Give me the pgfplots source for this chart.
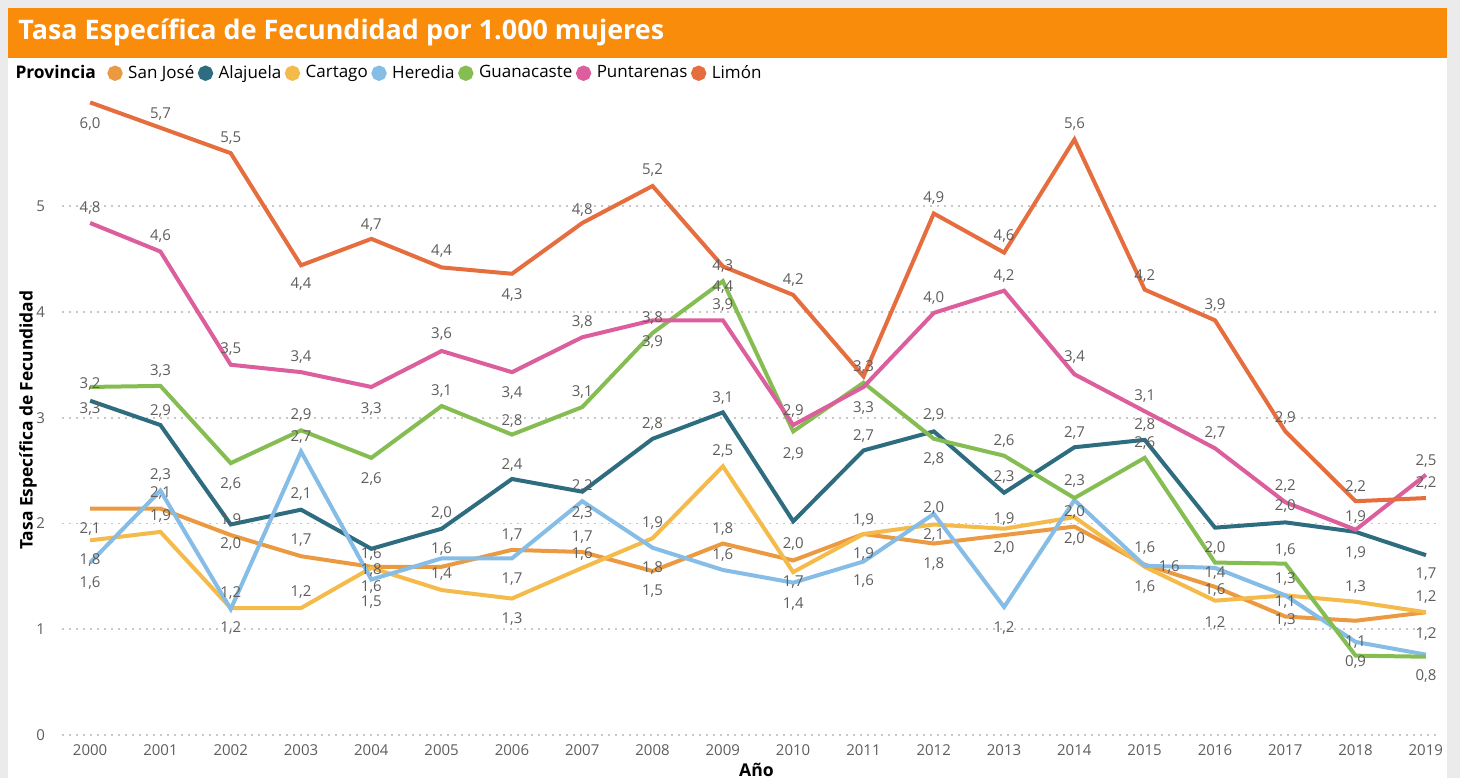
\documentclass[border=0pt]{standalone}
\usepackage{pgfplots}
\pgfplotsset{compat=1.18}
\usepackage{fontspec}
\setmainfont{Open Sans}
\definecolor{cSJ}{HTML}{EB9A42}
\definecolor{cAL}{HTML}{2E6C80}
\definecolor{cCA}{HTML}{F4BA4A}
\definecolor{cHE}{HTML}{86BDE6}
\definecolor{cGU}{HTML}{85BD52}
\definecolor{cPU}{HTML}{DC5E9C}
\definecolor{cLI}{HTML}{E56D3E}
\definecolor{titleOrange}{HTML}{F98C0B}
\definecolor{bgGrey}{HTML}{EBEBEB}
\definecolor{labGrey}{HTML}{605E5C}
\definecolor{gridGrey}{HTML}{C8C8C8}
\begin{document}
\begin{tikzpicture}
\fill[bgGrey] (0,0) rectangle (730pt,389pt);
\useasboundingbox (0,0) rectangle (730pt,389pt);
\fill[white] (4pt,0) rectangle (723.5pt,385pt);
\fill[titleOrange] (4pt,360pt) rectangle (723.5pt,385pt);
\node[anchor=west, text=white, inner sep=0pt, font=\bfseries\fontsize{13.45}{15}\selectfont] at (9pt,373pt) {Tasa Específica de Fecundidad por 1.000 mujeres};
\begin{axis}[
  at={(31pt,21.5pt)}, anchor=south west,
  scale only axis, width=689pt, height=320pt,
  xmin=1999.6, xmax=2019.2, ymin=0, ymax=6.05,
  xtick={2000,...,2019}, ytick={0,...,5},
  axis line style={draw=none}, tick style={draw=none},
  major tick length=0pt,
  ymajorgrids, grid style={gridGrey, line width=0.9pt, dash pattern=on 0.9pt off 2.6pt},
  clip=false,
  /pgf/number format/assume math mode=true,
  xticklabel style={/pgf/number format/1000 sep={}, font=\fontsize{7.5}{8}\selectfont, text=labGrey, yshift=-1.5pt},
  yticklabel style={font=\fontsize{7.5}{8}\selectfont, text=labGrey, xshift=-5pt},
  xlabel={Año}, ylabel={Tasa Específica de Fecundidad},
  xlabel style={at={(axis description cs:0.504,0)}, anchor=center, yshift=-17.5pt, font=\bfseries\fontsize{8.8}{10}\selectfont},
  ylabel style={at={(axis description cs:-0.0247,0.492)}, anchor=center, font=\bfseries\fontsize{8.7}{10}\selectfont},
  legend columns=-1,
  legend cell align=left,
  legend style={at={(axis description cs:-0.0378,1.034)}, anchor=west, draw=none, fill=none, inner sep=0pt, outer sep=0pt,
    font=\fontsize{8.5}{10}\selectfont,
    nodes={inner xsep=0.8pt},
    /tikz/every even column/.append style={column sep=1pt},
    /tikz/every odd column/.append style={column sep=2pt}},
  legend image code/.code={\fill[#1] (0pt,0pt) circle (2.8pt);},
  every axis plot/.append style={line width=2pt},
]
\addlegendimage{empty legend}
\addlegendentry{\textbf{\fontsize{8.7}{10}\selectfont Provincia}\kern4pt}
\addplot[cSJ] coordinates {(2000,2.14)(2001,2.14)(2002,1.89)(2003,1.69)(2004,1.59)(2005,1.59)(2006,1.75)(2007,1.73)(2008,1.55)(2009,1.81)(2010,1.65)(2011,1.90)(2012,1.81)(2013,1.89)(2014,1.97)(2015,1.61)(2016,1.40)(2017,1.12)(2018,1.08)(2019,1.16)};
\addlegendentry{San José}
\addplot[cAL] coordinates {(2000,3.16)(2001,2.93)(2002,1.99)(2003,2.13)(2004,1.76)(2005,1.95)(2006,2.42)(2007,2.30)(2008,2.80)(2009,3.05)(2010,2.02)(2011,2.69)(2012,2.87)(2013,2.29)(2014,2.72)(2015,2.79)(2016,1.96)(2017,2.01)(2018,1.92)(2019,1.70)};
\addlegendentry{Alajuela}
\addplot[cCA] coordinates {(2000,1.84)(2001,1.92)(2002,1.20)(2003,1.20)(2004,1.58)(2005,1.37)(2006,1.29)(2007,1.58)(2008,1.86)(2009,2.54)(2010,1.54)(2011,1.90)(2012,1.99)(2013,1.95)(2014,2.06)(2015,1.59)(2016,1.27)(2017,1.32)(2018,1.26)(2019,1.16)};
\addlegendentry{Cartago}
\addplot[cHE] coordinates {(2000,1.63)(2001,2.31)(2002,1.19)(2003,2.68)(2004,1.47)(2005,1.67)(2006,1.67)(2007,2.21)(2008,1.77)(2009,1.56)(2010,1.44)(2011,1.64)(2012,2.09)(2013,1.21)(2014,2.22)(2015,1.60)(2016,1.58)(2017,1.32)(2018,0.88)(2019,0.76)};
\addlegendentry{Heredia}
\addplot[cGU] coordinates {(2000,3.29)(2001,3.30)(2002,2.57)(2003,2.88)(2004,2.62)(2005,3.11)(2006,2.84)(2007,3.10)(2008,3.80)(2009,4.29)(2010,2.87)(2011,3.33)(2012,2.80)(2013,2.64)(2014,2.24)(2015,2.62)(2016,1.63)(2017,1.62)(2018,0.75)(2019,0.74)};
\addlegendentry{Guanacaste}
\addplot[cPU] coordinates {(2000,4.84)(2001,4.57)(2002,3.50)(2003,3.43)(2004,3.29)(2005,3.63)(2006,3.43)(2007,3.76)(2008,3.92)(2009,3.92)(2010,2.93)(2011,3.29)(2012,3.99)(2013,4.20)(2014,3.41)(2015,3.06)(2016,2.71)(2017,2.20)(2018,1.94)(2019,2.46)};
\addlegendentry{Puntarenas}
\addplot[cLI] coordinates {(2000,5.98)(2001,5.74)(2002,5.50)(2003,4.44)(2004,4.69)(2005,4.42)(2006,4.36)(2007,4.84)(2008,5.19)(2009,4.43)(2010,4.16)(2011,3.39)(2012,4.93)(2013,4.56)(2014,5.63)(2015,4.21)(2016,3.92)(2017,2.87)(2018,2.21)(2019,2.24)};
\addlegendentry{Limón}
\addplot[forget plot, draw=none, nodes near coords, point meta=explicit symbolic,
  every node near coord/.append style={anchor=center, inner sep=0pt, font=\fontsize{7.5}{9}\selectfont, text=labGrey}]
coordinates {
(2000,5.78) [6,0] (2000,4.98) [4,8] (2000,3.32) [3,2] (2000,3.08) [3,3] (2000,1.95) [2,1] (2000,1.65) [1,8] (2000,1.44) [1,6]
(2001,5.87) [5,7] (2001,4.72) [4,6] (2001,3.44) [3,3] (2001,3.06) [2,9] (2001,2.46) [2,3] (2001,2.29) [2,1] (2001,2.07) [1,9]
(2002,5.64) [5,5] (2002,3.65) [3,5] (2002,2.37) [2,6] (2002,2.03) [1,9] (2002,1.81) [2,0] (2002,1.34) [1,2] (2002,1.01) [1,2]
(2003,4.26) [4,4] (2003,3.57) [3,4] (2003,3.02) [2,9] (2003,2.82) [2,7] (2003,2.28) [2,1] (2003,1.84) [1,7] (2003,1.35) [1,2]
(2004,4.82) [4,7] (2004,3.08) [3,3] (2004,2.42) [2,6] (2004,1.71) [1,6] (2004,1.56) [1,8] (2004,1.40) [1,6] (2004,1.26) [1,5]
(2005,4.57) [4,4] (2005,3.79) [3,6] (2005,3.25) [3,1] (2005,2.10) [2,0] (2005,1.76) [1,6] (2005,1.52) [1,4]
(2006,4.16) [4,3] (2006,3.23) [3,4] (2006,2.97) [2,8] (2006,2.55) [2,4] (2006,1.89) [1,7] (2006,1.47) [1,7] (2006,1.10) [1,3]
(2007,4.96) [4,8] (2007,3.90) [3,8] (2007,3.24) [3,1] (2007,2.35) [2,2] (2007,2.10) [2,3] (2007,1.87) [1,7] (2007,1.71) [1,6]
(2008,5.34) [5,2] (2008,3.94) [3,8] (2008,3.71) [3,9] (2008,2.94) [2,8] (2008,2.00) [1,9] (2008,1.58) [1,8] (2008,1.36) [1,5]
(2009,4.43) [4,3] (2009,4.23) [4,4] (2009,4.06) [3,9] (2009,3.19) [3,1] (2009,2.68) [2,5] (2009,1.95) [1,8] (2009,1.70) [1,6]
(2010,4.30) [4,2] (2010,3.06) [2,9] (2010,2.66) [2,9] (2010,1.81) [2,0] (2010,1.45) [1,7] (2010,1.24) [1,4]
(2011,3.48) [3,3] (2011,3.09) [3,3] (2011,2.83) [2,7] (2011,2.03) [1,9] (2011,1.71) [1,9] (2011,1.46) [1,6]
(2012,5.08) [4,9] (2012,4.13) [4,0] (2012,3.02) [2,9] (2012,2.61) [2,8] (2012,2.15) [2,0] (2012,1.89) [2,1] (2012,1.62) [1,8]
(2013,4.72) [4,6] (2013,4.34) [4,2] (2013,2.78) [2,6] (2013,2.44) [2,3] (2013,2.04) [1,9] (2013,1.77) [2,0] (2013,1.01) [1,2]
(2014,5.78) [5,6] (2014,3.57) [3,4] (2014,2.85) [2,7] (2014,2.40) [2,3] (2014,2.11) [2,0] (2014,1.85) [2,0]
(2015,4.34) [4,2] (2015,3.20) [3,1] (2015,2.93) [2,8] (2015,2.76) [2,6] (2015,1.77) [1,6] (2015.35,1.59) [1,6] (2015,1.40) [1,6]
(2016,4.06) [3,9] (2016,2.85) [2,7] (2016,1.77) [2,0] (2016,1.53) [1,4] (2016,1.37) [1,6] (2016,1.06) [1,2]
(2017,3.00) [2,9] (2017,2.35) [2,2] (2017,2.16) [2,0] (2017,1.75) [1,6] (2017,1.47) [1,3] (2017,1.26) [1,1] (2017,1.09) [1,3]
(2018,2.34) [2,2] (2018,2.06) [1,9] (2018,1.72) [1,9] (2018,1.40) [1,3] (2018,0.88) [1,1] (2018,0.69) [0,9]
(2019,2.59) [2,5] (2019,2.38) [2,2] (2019,1.52) [1,7] (2019,1.30) [1,2] (2019,0.95) [1,2] (2019,0.56) [0,8]
};
\end{axis}
\end{tikzpicture}
\end{document}
